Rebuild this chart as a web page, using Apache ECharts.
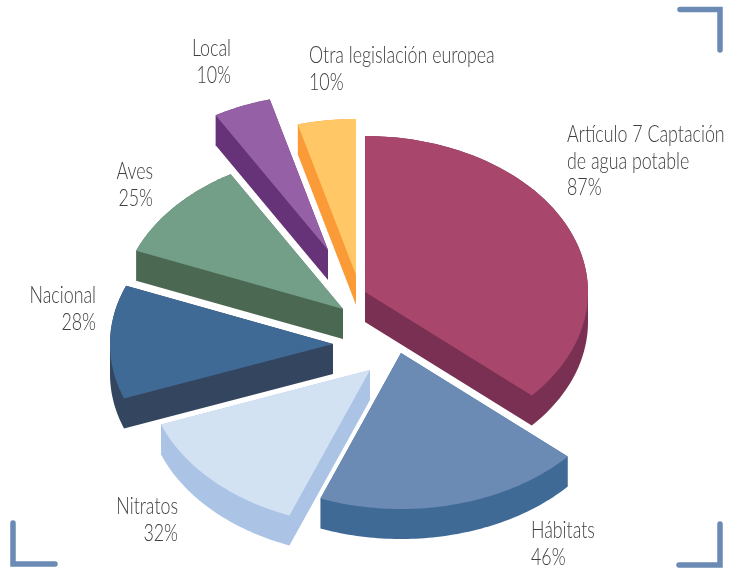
<!DOCTYPE html>
<html>
<head>
<meta charset="utf-8">
<style>html,body{margin:0;padding:0;background:#fff}#c{width:736px;height:569px}</style>
<script src="https://cdn.jsdelivr.net/npm/echarts@6/dist/echarts.min.js"></script>
</head>
<body>
<div id="c"></div>
<script>
const categories = ['Artículo 7 Captación\nde agua potable', 'Hábitats', 'Nitratos', 'Nacional', 'Aves', 'Local', 'Otra legislación europea'];
const values = [87, 46, 32, 28, 25, 10, 10];
const topColors = ['#A8476B', '#6B8BB5', '#D3E2F3', '#3F6A96', '#739E87', '#9560A6', '#FFC766'];
const sideColors = ['#7A3052', '#3F6A96', '#ABC4E6', '#34465F', '#4B6853', '#663378', '#FB9B38'];
const explodeX = [0, 36, 5, -32, -22, -37, -9];
const explodeY = [0, 61, 78, 52, 17, -42, -17];
const labelX = [567, 531, 178, 96, 153, 231, 309];
const labelY = [135, 531, 507, 296, 172, 49, 56];
const labelAlign = ['left', 'left', 'right', 'right', 'right', 'right', 'left'];

const centerX = 365, centerY = 292, radiusX = 223, radiusY = 156, depth = 30;
const lineH = 26.5, textScale = 0.775;
const total = values.reduce((a, b) => a + b, 0);

function hull(pts) {
  const p = pts.slice().sort((a, b) => a[0] - b[0] || a[1] - b[1]);
  const cross = (o, a, b) => (a[0] - o[0]) * (b[1] - o[1]) - (a[1] - o[1]) * (b[0] - o[0]);
  const lo = [], up = [];
  for (const q of p) { while (lo.length > 1 && cross(lo[lo.length - 2], lo[lo.length - 1], q) <= 0) lo.pop(); lo.push(q); }
  for (const q of p.slice().reverse()) { while (up.length > 1 && cross(up[up.length - 2], up[up.length - 1], q) <= 0) up.pop(); up.push(q); }
  return lo.slice(0, -1).concat(up.slice(0, -1));
}

function renderItem(params, api) {
  const i = params.dataIndex;
  const v = api.value(0);
  let before = 0;
  for (let k = 0; k < i; k++) before += values[k];
  const a0 = before / total * Math.PI * 2, a1 = (before + v) / total * Math.PI * 2;
  const cx = centerX + explodeX[i], cy = centerY + explodeY[i];
  const face = [[cx, cy]];
  const n = 64;
  for (let s = 0; s <= n; s++) {
    const a = a0 + (a1 - a0) * s / n;
    face.push([cx + radiusX * Math.sin(a), cy - radiusY * Math.cos(a)]);
  }
  const wall = hull(face.concat(face.map(p => [p[0], p[1] + depth])));
  const lines = (categories[i] + '\n' + v + '%').split('\n');
  const children = [
    { type: 'polygon', shape: { points: wall }, style: { fill: sideColors[i] } },
    { type: 'polygon', shape: { points: face }, style: { fill: topColors[i] } }
  ];
  lines.forEach((t, j) => children.push({
    type: 'text', x: labelX[i], y: labelY[i] + j * lineH, scaleX: textScale,
    style: { text: t, x: 0, y: 0, align: labelAlign[i], verticalAlign: 'middle', fill: '#404040',
      font: '300 23px Lato' }
  }));
  return { type: 'group', children };
}

const bracket = pts => ({
  type: 'polyline', shape: { points: pts },
  style: { stroke: '#6B8BB5', lineWidth: 5.5, lineCap: 'round', lineJoin: 'miter', fill: null }
});

const chart = echarts.init(document.getElementById('c'), null, { renderer: 'canvas' });
chart.setOption({
  animation: false,
  backgroundColor: '#fff',
  graphic: [
    bracket([[680, 9.5], [720, 9.5], [720, 50]]),
    bracket([[13, 523], [13, 564], [55, 564]]),
    bracket([[720, 524], [720, 565], [679, 565]])
  ],
  series: [{
    type: 'custom', coordinateSystem: 'none', renderItem,
    data: values.map(v => [v])
  }]
});
</script>
</body>
</html>
